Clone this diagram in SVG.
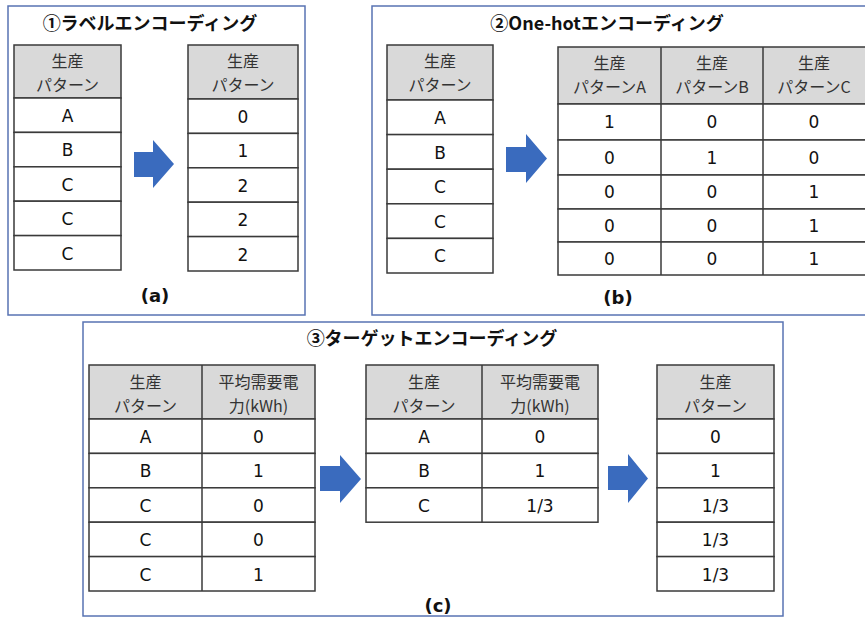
<svg xmlns="http://www.w3.org/2000/svg" width="865" height="617" viewBox="0 0 865 617">
<style>
.frame{fill:none;stroke:#5873b3;stroke-width:1.5}
.hdr{fill:#d9d9d9;stroke:#3a3a3a;stroke-width:1.5}
.cell{fill:#fff;stroke:#3a3a3a;stroke-width:1.5}
.ln{stroke:#3a3a3a;stroke-width:1.5}
.title{font-family:"Noto Sans CJK JP","Noto Sans",sans-serif;font-weight:bold;font-size:18px;text-anchor:middle;fill:#111}
.h{font-family:"Noto Sans CJK JP","Noto Sans",sans-serif;font-size:16px;text-anchor:middle;fill:#333}
.d{font-family:"DejaVu Sans",sans-serif;font-size:17px;text-anchor:middle;fill:#111}
.lbl{font-family:"DejaVu Sans",sans-serif;font-weight:bold;font-size:18px;text-anchor:middle;fill:#111}
.arrow{fill:#3a6bbe}
</style>
<rect width="865" height="617" fill="#fff"/>

<g id="panel-a">
<rect class="frame" x="8" y="6" width="297" height="309"/>
<text class="title" x="150" y="30">①ラベルエンコーディング</text>
<text class="lbl" x="155" y="302">(a)</text>
</g>
<g id="panel-b">
<rect class="frame" x="372" y="6" width="510" height="309"/>
<text class="title" x="607" y="30">②One-hotエンコーディング</text>
<text class="lbl" x="618" y="304">(b)</text>
</g>
<g id="panel-c">
<rect class="frame" x="83" y="322" width="700" height="294"/>
<text class="title" x="432" y="345">③ターゲットエンコーディング</text>
<text class="lbl" x="438" y="612">(c)</text>
</g>

<g id="table-a-in">
<rect class="hdr" x="14" y="45" width="107" height="53"/>
<text class="h" x="67.5" y="67">生産</text><text class="h" x="67.5" y="91">パターン</text>
<rect class="cell" x="14" y="98" width="107" height="34.4"/>
<rect class="cell" x="14" y="132.4" width="107" height="34.4"/>
<rect class="cell" x="14" y="166.8" width="107" height="34.4"/>
<rect class="cell" x="14" y="201.2" width="107" height="34.4"/>
<rect class="cell" x="14" y="235.6" width="107" height="34.4"/>
<text class="d" x="67.5" y="121.5">A</text>
<text class="d" x="67.5" y="156">B</text>
<text class="d" x="67.5" y="190.5">C</text>
<text class="d" x="67.5" y="225">C</text>
<text class="d" x="67.5" y="259.5">C</text>
</g>

<g id="table-a-out">
<rect class="hdr" x="188" y="45" width="110" height="54"/>
<text class="h" x="243" y="67">生産</text><text class="h" x="243" y="91">パターン</text>
<rect class="cell" x="188" y="99" width="110" height="34.4"/>
<rect class="cell" x="188" y="133.4" width="110" height="34.4"/>
<rect class="cell" x="188" y="167.8" width="110" height="34.4"/>
<rect class="cell" x="188" y="202.2" width="110" height="34.4"/>
<rect class="cell" x="188" y="236.6" width="110" height="34.4"/>
<text class="d" x="243" y="122.5">0</text>
<text class="d" x="243" y="157">1</text>
<text class="d" x="243" y="191.5">2</text>
<text class="d" x="243" y="226">2</text>
<text class="d" x="243" y="260.5">2</text>
</g>

<g id="table-b-in">
<rect class="hdr" x="387" y="45" width="106" height="55"/>
<text class="h" x="440" y="67">生産</text><text class="h" x="440" y="91">パターン</text>
<rect class="cell" x="387" y="100" width="106" height="34.6"/>
<rect class="cell" x="387" y="134.6" width="106" height="34.6"/>
<rect class="cell" x="387" y="169.2" width="106" height="34.6"/>
<rect class="cell" x="387" y="203.8" width="106" height="34.6"/>
<rect class="cell" x="387" y="238.4" width="106" height="34.6"/>
<text class="d" x="440" y="123.5">A</text>
<text class="d" x="440" y="158.5">B</text>
<text class="d" x="440" y="193">C</text>
<text class="d" x="440" y="227.5">C</text>
<text class="d" x="440" y="262">C</text>
</g>

<g id="table-b-out">
<rect class="hdr" x="558" y="47" width="320" height="57"/>
<rect class="cell" x="558" y="104" width="320" height="36"/>
<rect class="cell" x="558" y="140" width="320" height="35"/>
<rect class="cell" x="558" y="175" width="320" height="34"/>
<rect class="cell" x="558" y="209" width="320" height="33"/>
<rect class="cell" x="558" y="242" width="320" height="33"/>
<line class="ln" x1="661" y1="47" x2="661" y2="275"/>
<line class="ln" x1="763" y1="47" x2="763" y2="275"/>
<text class="h" x="609.5" y="69">生産</text><text class="h" x="609.5" y="93">パターンA</text>
<text class="h" x="712" y="69">生産</text><text class="h" x="712" y="93">パターンB</text>
<text class="h" x="814" y="69">生産</text><text class="h" x="814" y="93">パターンC</text>
<text class="d" x="609.5" y="128">1</text><text class="d" x="712" y="128">0</text><text class="d" x="814" y="128">0</text>
<text class="d" x="609.5" y="163.5">0</text><text class="d" x="712" y="163.5">1</text><text class="d" x="814" y="163.5">0</text>
<text class="d" x="609.5" y="198">0</text><text class="d" x="712" y="198">0</text><text class="d" x="814" y="198">1</text>
<text class="d" x="609.5" y="231.5">0</text><text class="d" x="712" y="231.5">0</text><text class="d" x="814" y="231.5">1</text>
<text class="d" x="609.5" y="264.5">0</text><text class="d" x="712" y="264.5">0</text><text class="d" x="814" y="264.5">1</text>
</g>

<g id="table-c-in">
<rect class="hdr" x="89" y="365" width="226" height="54"/>
<rect class="cell" x="89" y="419" width="226" height="34.4"/>
<rect class="cell" x="89" y="453.4" width="226" height="34.4"/>
<rect class="cell" x="89" y="487.8" width="226" height="34.4"/>
<rect class="cell" x="89" y="522.2" width="226" height="34.4"/>
<rect class="cell" x="89" y="556.6" width="226" height="34.4"/>
<line class="ln" x1="202" y1="365" x2="202" y2="591"/>
<text class="h" x="145.5" y="388">生産</text><text class="h" x="145.5" y="412">パターン</text>
<text class="h" x="258.5" y="388">平均需要電</text><text class="h" x="258.5" y="412">力(kWh)</text>
<text class="d" x="145.5" y="442.5">A</text><text class="d" x="258.5" y="442.5">0</text>
<text class="d" x="145.5" y="477">B</text><text class="d" x="258.5" y="477">1</text>
<text class="d" x="145.5" y="511.5">C</text><text class="d" x="258.5" y="511.5">0</text>
<text class="d" x="145.5" y="546">C</text><text class="d" x="258.5" y="546">0</text>
<text class="d" x="145.5" y="580.5">C</text><text class="d" x="258.5" y="580.5">1</text>
</g>

<g id="table-c-mid">
<rect class="hdr" x="366" y="365" width="232" height="54"/>
<rect class="cell" x="366" y="419" width="232" height="34.4"/>
<rect class="cell" x="366" y="453.4" width="232" height="34.4"/>
<rect class="cell" x="366" y="487.8" width="232" height="34.4"/>
<line class="ln" x1="482" y1="365" x2="482" y2="522.2"/>
<text class="h" x="424" y="388">生産</text><text class="h" x="424" y="412">パターン</text>
<text class="h" x="540" y="388">平均需要電</text><text class="h" x="540" y="412">力(kWh)</text>
<text class="d" x="424" y="442.5">A</text><text class="d" x="540" y="442.5">0</text>
<text class="d" x="424" y="477">B</text><text class="d" x="540" y="477">1</text>
<text class="d" x="424" y="511.5">C</text><text class="d" x="540" y="511.5">1/3</text>
</g>

<g id="table-c-out">
<rect class="hdr" x="657" y="365" width="117" height="54"/>
<rect class="cell" x="657" y="419" width="117" height="34.4"/>
<rect class="cell" x="657" y="453.4" width="117" height="34.4"/>
<rect class="cell" x="657" y="487.8" width="117" height="34.4"/>
<rect class="cell" x="657" y="522.2" width="117" height="34.4"/>
<rect class="cell" x="657" y="556.6" width="117" height="34.4"/>
<text class="h" x="715.5" y="388">生産</text><text class="h" x="715.5" y="412">パターン</text>
<text class="d" x="715.5" y="442.5">0</text>
<text class="d" x="715.5" y="477">1</text>
<text class="d" x="715.5" y="511.5">1/3</text>
<text class="d" x="715.5" y="546">1/3</text>
<text class="d" x="715.5" y="580.5">1/3</text>
</g>

<g id="connectors">
<path class="arrow" d="M134,152 H153 V140 L174,164 L153,188 V177 H134 Z"/>
<path class="arrow" d="M506,147 H526 V134 L547,158.5 L526,183 V172 H506 Z"/>
<path class="arrow" d="M320,466 H340 V455 L361,479 L340,503 V491 H320 Z"/>
<path class="arrow" d="M608,466 H628 V454 L648,478.5 L628,503 V490 H608 Z"/>
</g>
</svg>
